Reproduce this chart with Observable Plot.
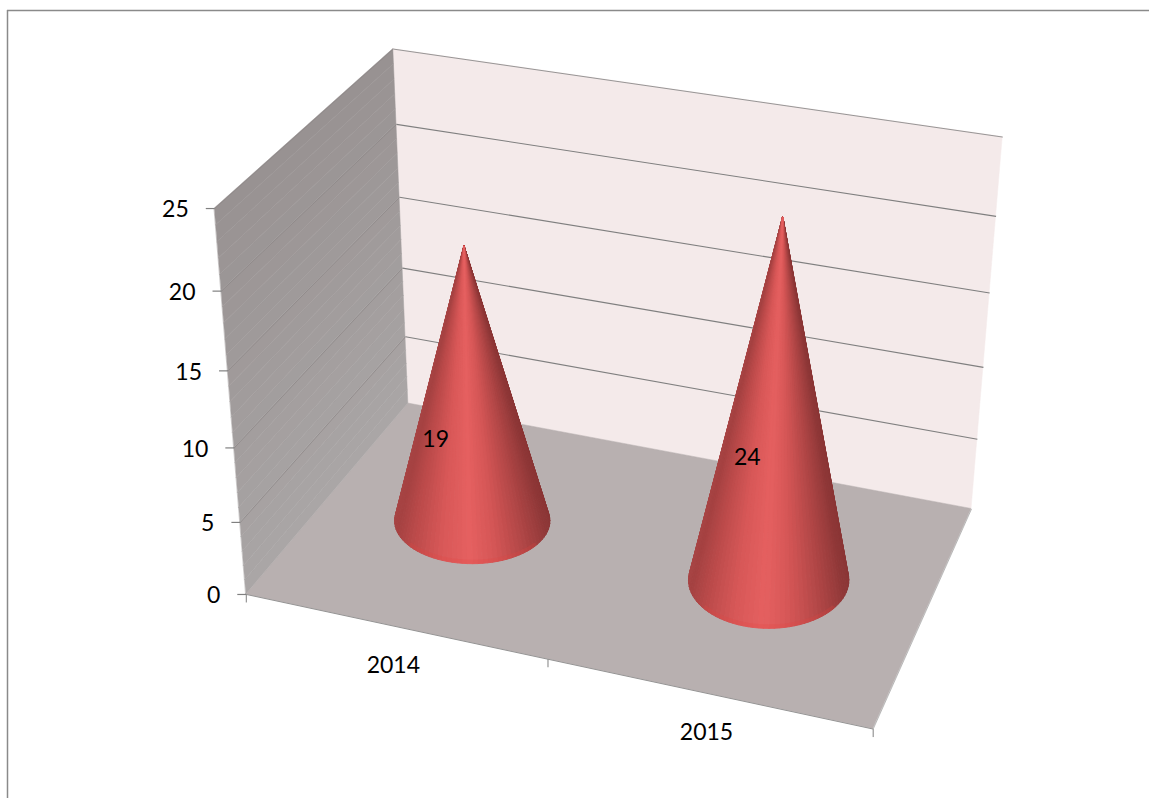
<!DOCTYPE html>
<html>
<head>
<meta charset="utf-8">
<script src="https://cdn.jsdelivr.net/npm/d3@7"></script>
<script src="https://cdn.jsdelivr.net/npm/@observablehq/plot@0.6"></script>
<style>html,body{margin:0;padding:0;background:#fff}svg{display:block}</style>
</head>
<body>
<div id="chart"></div>
<script>
const years = ["2014", "2015"];
const values = [19, 24];
const valueTicks = [0, 5, 10, 15, 20, 25];
const yearCenters = [0.25, 0.75];
const yearTicks = [0, 0.5, 1];
const maxValue = 25;

// Camera of the 3-D box: [across, depth, value] -> picture, solved below by least squares
const cameraAnchors = [
  [0,0,0,246,594],[1,0,0,873,729],[0,1,0,408,403],[1,1,0,971,508],
  [0,0,25,214,209],[0,1,25,393,47],[1,1,25,1002,137],
  [0,0,5,240,521],[0,0,10,233,447],[0,0,15,228,370],[0,0,20,221,291],
  [0,1,5,404,337],[1,1,5,977,439],[0,1,15,400,198],[1,1,15,989,292]
];
function solveCamera(anch){
  const A=[],b=[];
  for(const [X,Y,Z0,u,v] of anch){
    const Z=Z0/maxValue;
    A.push([X,Y,Z,1,0,0,0,0,-u*X,-u*Y,-u*Z]);b.push(u);
    A.push([0,0,0,0,X,Y,Z,1,-v*X,-v*Y,-v*Z]);b.push(v);
  }
  const n=11,M=[];
  for(let i=0;i<n;i++){M.push(new Array(n+1).fill(0));
    for(let j=0;j<n;j++)for(let k=0;k<A.length;k++)M[i][j]+=A[k][i]*A[k][j];
    for(let k=0;k<A.length;k++)M[i][n]+=A[k][i]*b[k];}
  for(let c=0;c<n;c++){
    let p=c;for(let r=c+1;r<n;r++)if(Math.abs(M[r][c])>Math.abs(M[p][c]))p=r;
    [M[c],M[p]]=[M[p],M[c]];
    for(let r=0;r<n;r++){if(r===c)continue;const f=M[r][c]/M[c][c];
      for(let j=c;j<=n;j++)M[r][j]-=f*M[c][j];}
  }
  return M.map((r,i)=>r[n]/r[i]);
}
const P=solveCamera(cameraAnchors);
function proj(X,Y,V){
  const Z=V/maxValue,w=P[8]*X+P[9]*Y+P[10]*Z+1;
  return [(P[0]*X+P[1]*Y+P[2]*Z+P[3])/w,(P[4]*X+P[5]*Y+P[6]*Z+P[7])/w];
}
const quad=(a,b,c,d,z,fill)=>[
  {x1:a[0],y1:a[1],x2:d[0],y2:d[1],z,fill},
  {x1:b[0],y1:b[1],x2:c[0],y2:c[1],z,fill}];
const seg=(a,b,stroke,w)=>({x1:a[0],y1:a[1],x2:b[0],y2:b[1],stroke,w});

// walls
const wallShade=d3.scaleLinear().domain([0,25]).range(["#aaa6a6","#989292"]);
const walls=[];
walls.push(...quad(proj(0,1,0),proj(1,1,0),proj(1,1,25),proj(0,1,25),"back","#f4eaea"));
walls.push(...quad(proj(0,0,0),proj(1,0,0),proj(1,1,0),proj(0,1,0),"floor","#b8b0b0"));
for(let i=0;i<25;i++){
  walls.push(...quad(proj(0,0,i),proj(0,1,i),proj(0,1,i+1),proj(0,0,i+1),"left"+i,wallShade(i+.5)));
}
const lines=[];
for(const v of valueTicks.slice(1)){
  lines.push(seg(proj(0,1,v),proj(1,1,v),"#7f7f7f",v===25?0.8:1.1));
  lines.push(seg(proj(0,0,v),proj(0,1,v),"#8c8787",0.7));
}
lines.push(seg(proj(0,0,0),proj(1,0,0),"#808080",0.8));
lines.push(seg(proj(1,0,0),proj(1,1,0),"#8f8f8f",0.6));

// ticks & labels
const tickData=valueTicks.map(v=>{const p=proj(0,0,v);return {x1:p[0]-9,x2:p[0],y1:p[1],y2:p[1],label:String(v),lx:p[0]-26,ly:p[1]+1.5};});
const catTicks=yearTicks.map(u=>{const p=proj(u,0,0);return {x1:p[0],x2:p[0],y1:p[1],y2:p[1]+8};});
const catLabels=years.map((y,i)=>{const p=proj(yearCenters[i],0,0);return {x:p[0]-1,y:p[1]+39,label:y};});

// cones
const rxs=[0.133,0.128],steps=96,baseAspect=[0.55,0.6],apexDrop=4;
const labelShift=[[-33,55],[-29,58]];
const ramp=d3.scaleLinear()
  .domain([0,0.05,0.2,0.38,0.52,0.68,0.85,0.96,1])
  .range(["#8a3535","#8f3838","#b04646","#d55656","#e56060","#d85858","#bb4a4a","#a54242","#a84545"]);
const coneSlices=[],rims=[],dataLabels=[];
years.forEach((yr,i)=>{
  const cx=yearCenters[i],rx=rxs[i];
  const c=proj(cx,0.5,0),top=proj(cx,0.5,values[i]),apex=[top[0],top[1]+apexDrop];
  const l=proj(cx-rx,0.5,0),r=proj(cx+rx,0.5,0);
  const a=Math.hypot(r[0]-l[0],r[1]-l[1])/2,b=a*baseAspect[i];
  const base=d3.range(steps+1).map(k=>{
    const t=k/steps*2*Math.PI;return [c[0]+a*Math.cos(t),c[1]+b*Math.sin(t)];});
  const ang=base.map(p=>Math.atan2(p[0]-apex[0],p[1]-apex[1]));
  const lo=d3.min(ang),hi=d3.max(ang);
  const sl=[];
  for(let k=0;k<steps;k++){
    const p=base[k],q=base[k+1];
    sl.push({p,q,my:(p[1]+q[1])/2,t:((ang[k]+ang[k+1])/2-lo)/(hi-lo)});
  }
  sl.sort((s,u)=>s.my-u.my);
  sl.forEach((s,k)=>{
    const z=yr+"-"+k,fill=ramp(1-s.t);
    coneSlices.push({x1:apex[0],y1:apex[1],x2:s.p[0],y2:s.p[1],z,fill});
    coneSlices.push({x1:apex[0],y1:apex[1],x2:s.q[0],y2:s.q[1],z,fill});
  });
  base.forEach((p,k)=>{
    const t=k/steps*2*Math.PI;
    if(t>0.6&&t<Math.PI-0.6) rims.push({x:p[0],y:p[1]-2.5,yr});
  });
  dataLabels.push({x:(c[0]+apex[0])/2+labelShift[i][0],y:(c[1]+apex[1])/2+labelShift[i][1],label:String(values[i])});
});

const font="Lato, Carlito, sans-serif";
const plot=Plot.plot({
  width:1149,height:798,margin:0,
  x:{domain:[0,1149],range:[0,1149],axis:null},
  y:{domain:[0,798],range:[0,798],axis:null},
  color:{type:"identity"},
  style:{background:"#fff"},
  marks:[
    Plot.ruleY([10],{x1:7,x2:1149,stroke:"#8a8a8a",strokeWidth:1.5}),
    Plot.ruleX([7],{y1:10,y2:798,stroke:"#8a8a8a",strokeWidth:1.5}),
    Plot.area(walls,{x1:"x1",y1:"y1",x2:"x2",y2:"y2",z:"z",fill:"fill",stroke:"fill",strokeWidth:0.5}),
    Plot.link(lines,{x1:"x1",y1:"y1",x2:"x2",y2:"y2",stroke:"stroke",strokeWidth:"w"}),
    Plot.link(tickData,{x1:"x1",x2:"x2",y1:"y1",y2:"y2",stroke:"#808080",strokeWidth:1.2}),
    Plot.link(catTicks,{x1:"x1",x2:"x2",y1:"y1",y2:"y2",stroke:"#808080",strokeWidth:1}),
    Plot.area(coneSlices,{x1:"x1",y1:"y1",x2:"x2",y2:"y2",z:"z",fill:"fill",stroke:"fill",strokeWidth:1}),
    Plot.line(rims,{x:"x",y:"y",z:"yr",stroke:"#e2453f",strokeWidth:4,strokeOpacity:0.22}),
    Plot.text(tickData,{x:"lx",y:"ly",text:"label",textAnchor:"end",fontFamily:font,fontSize:23,fill:"#000"}),
    Plot.text(catLabels,{x:"x",y:"y",text:"label",fontFamily:font,fontSize:23,fill:"#000"}),
    Plot.text(dataLabels,{x:"x",y:"y",text:"label",fontFamily:font,fontSize:23,fill:"#000"})
  ]
});
document.getElementById("chart").appendChild(plot);
</script>
</body>
</html>
